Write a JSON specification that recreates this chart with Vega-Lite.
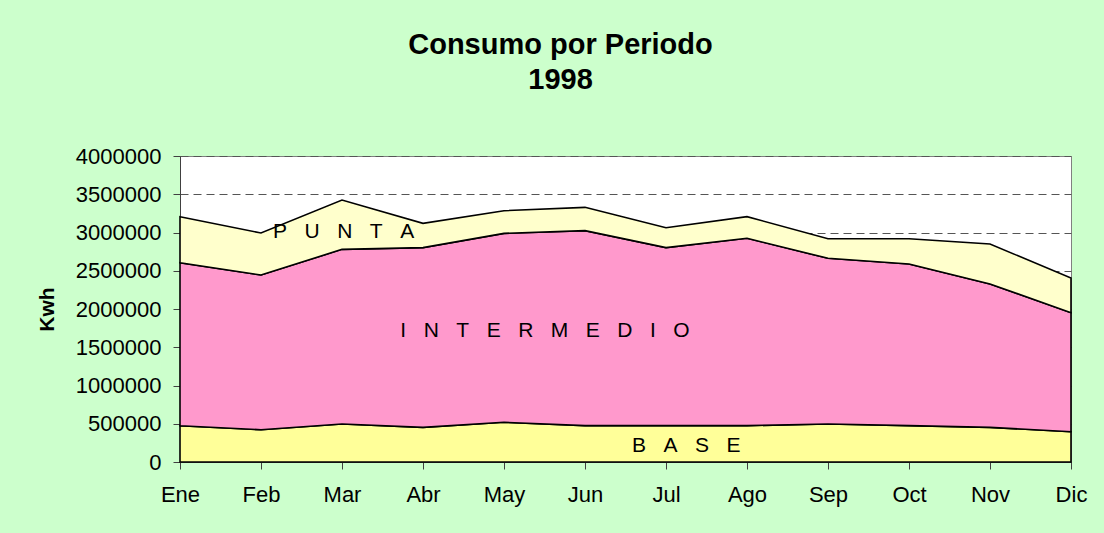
{
  "$schema": "https://vega.github.io/schema/vega-lite/v6.json",
  "width": 891,
  "height": 306,
  "autosize": "none",
  "padding": {"left": 180, "top": 156, "right": 33, "bottom": 71},
  "background": "#CCFFCC",
  "title": {
    "text": ["Consumo por Periodo", "1998"],
    "font": "Liberation Sans",
    "fontSize": 29,
    "fontWeight": "bold",
    "lineHeight": 35,
    "color": "black",
    "anchor": "middle",
    "dx": -65,
    "offset": 50
  },
  "config": {
    "view": {"fill": "white", "stroke": "#808080", "strokeWidth": 1},
    "font": "Liberation Sans",
    "axisY": {
      "titleFontSize": 21,
      "titleFontWeight": "bold",
      "titleColor": "black",
      "titlePadding": 18,
      "labelFontSize": 22,
      "labelColor": "black",
      "labelPadding": 12,
      "labelOverlap": false,
      "labelFlush": false,
      "tickSize": 7,
      "tickColor": "#404040",
      "domainColor": "#404040",
      "grid": true,
      "gridColor": "#555555",
      "gridDash": [8, 5],
      "gridWidth": 1
    }
  },
  "layer": [
    {
      "data": {
        "values": [
          {"mes": "Ene", "periodo": "BASE", "orden": 1, "kwh": 474000},
          {"mes": "Feb", "periodo": "BASE", "orden": 1, "kwh": 422000},
          {"mes": "Mar", "periodo": "BASE", "orden": 1, "kwh": 497000},
          {"mes": "Abr", "periodo": "BASE", "orden": 1, "kwh": 453000},
          {"mes": "May", "periodo": "BASE", "orden": 1, "kwh": 519000},
          {"mes": "Jun", "periodo": "BASE", "orden": 1, "kwh": 475000},
          {"mes": "Jul", "periodo": "BASE", "orden": 1, "kwh": 475000},
          {"mes": "Ago", "periodo": "BASE", "orden": 1, "kwh": 475000},
          {"mes": "Sep", "periodo": "BASE", "orden": 1, "kwh": 497000},
          {"mes": "Oct", "periodo": "BASE", "orden": 1, "kwh": 475000},
          {"mes": "Nov", "periodo": "BASE", "orden": 1, "kwh": 453000},
          {"mes": "Dic", "periodo": "BASE", "orden": 1, "kwh": 396000},
          {"mes": "Ene", "periodo": "INTERMEDIO", "orden": 2, "kwh": 2131000},
          {"mes": "Feb", "periodo": "INTERMEDIO", "orden": 2, "kwh": 2022000},
          {"mes": "Mar", "periodo": "INTERMEDIO", "orden": 2, "kwh": 2283000},
          {"mes": "Abr", "periodo": "INTERMEDIO", "orden": 2, "kwh": 2349000},
          {"mes": "May", "periodo": "INTERMEDIO", "orden": 2, "kwh": 2470000},
          {"mes": "Jun", "periodo": "INTERMEDIO", "orden": 2, "kwh": 2549000},
          {"mes": "Jul", "periodo": "INTERMEDIO", "orden": 2, "kwh": 2327000},
          {"mes": "Ago", "periodo": "INTERMEDIO", "orden": 2, "kwh": 2449000},
          {"mes": "Sep", "periodo": "INTERMEDIO", "orden": 2, "kwh": 2166000},
          {"mes": "Oct", "periodo": "INTERMEDIO", "orden": 2, "kwh": 2113000},
          {"mes": "Nov", "periodo": "INTERMEDIO", "orden": 2, "kwh": 1874000},
          {"mes": "Dic", "periodo": "INTERMEDIO", "orden": 2, "kwh": 1556000},
          {"mes": "Ene", "periodo": "PUNTA", "orden": 3, "kwh": 602000},
          {"mes": "Feb", "periodo": "PUNTA", "orden": 3, "kwh": 549000},
          {"mes": "Mar", "periodo": "PUNTA", "orden": 3, "kwh": 645000},
          {"mes": "Abr", "periodo": "PUNTA", "orden": 3, "kwh": 318000},
          {"mes": "May", "periodo": "PUNTA", "orden": 3, "kwh": 296000},
          {"mes": "Jun", "periodo": "PUNTA", "orden": 3, "kwh": 305000},
          {"mes": "Jul", "periodo": "PUNTA", "orden": 3, "kwh": 261000},
          {"mes": "Ago", "periodo": "PUNTA", "orden": 3, "kwh": 283000},
          {"mes": "Sep", "periodo": "PUNTA", "orden": 3, "kwh": 256000},
          {"mes": "Oct", "periodo": "PUNTA", "orden": 3, "kwh": 331000},
          {"mes": "Nov", "periodo": "PUNTA", "orden": 3, "kwh": 523000},
          {"mes": "Dic", "periodo": "PUNTA", "orden": 3, "kwh": 453000}
        ]
      },
      "mark": {"type": "area", "stroke": "black", "strokeWidth": 1.6, "opacity": 1, "strokeJoin": "miter"},
      "encoding": {
        "x": {
          "field": "mes",
          "type": "ordinal",
          "sort": ["Ene", "Feb", "Mar", "Abr", "May", "Jun", "Jul", "Ago", "Sep", "Oct", "Nov", "Dic"],
          "scale": {"type": "point", "padding": 0},
          "axis": {
            "title": null,
            "labelAngle": 0,
            "labelFontSize": 22,
            "labelColor": "black",
            "labelPadding": 15,
            "labelOverlap": false,
            "labelFlush": false,
            "tickSize": 7,
            "tickColor": "#404040",
            "domainColor": "#404040",
            "grid": false
          }
        },
        "y": {
          "field": "kwh",
          "type": "quantitative",
          "stack": "zero",
          "scale": {"domain": [0, 4000000], "nice": false},
          "axis": {
            "title": "Kwh",
            "values": [0, 500000, 1000000, 1500000, 2000000, 2500000, 3000000, 3500000, 4000000],
            "format": "d"
          }
        },
        "color": {
          "field": "periodo",
          "type": "nominal",
          "scale": {"domain": ["BASE", "INTERMEDIO", "PUNTA"], "range": ["#FFFF99", "#FF99CC", "#FFFFCC"]},
          "legend": null
        },
        "order": {"field": "orden", "type": "quantitative"}
      }
    },
    {
      "data": {
        "values": [
          {"etiqueta": "P\u00a0\u00a0\u00a0U\u00a0\u00a0\u00a0N\u00a0\u00a0\u00a0T\u00a0\u00a0\u00a0A", "pos": 2.02, "kwh": 3013000},
          {"etiqueta": "I\u00a0\u00a0\u00a0N\u00a0\u00a0\u00a0T\u00a0\u00a0\u00a0E\u00a0\u00a0\u00a0R\u00a0\u00a0\u00a0M\u00a0\u00a0\u00a0E\u00a0\u00a0\u00a0D\u00a0\u00a0\u00a0I\u00a0\u00a0\u00a0O", "pos": 4.506, "kwh": 1706000},
          {"etiqueta": "B\u00a0\u00a0\u00a0A\u00a0\u00a0\u00a0S\u00a0\u00a0\u00a0E", "pos": 6.25, "kwh": 203000}
        ]
      },
      "mark": {"type": "text", "fontSize": 21, "color": "black", "align": "center", "baseline": "middle", "font": "Liberation Sans"},
      "encoding": {
        "x": {"field": "pos", "type": "quantitative", "scale": {"domain": [0, 11], "nice": false}, "axis": null},
        "y": {
          "field": "kwh",
          "type": "quantitative",
          "axis": {
            "title": "Kwh",
            "values": [0, 500000, 1000000, 1500000, 2000000, 2500000, 3000000, 3500000, 4000000],
            "format": "d"
          }
        },
        "text": {"field": "etiqueta"}
      }
    }
  ],
  "resolve": {"scale": {"x": "independent"}}
}
